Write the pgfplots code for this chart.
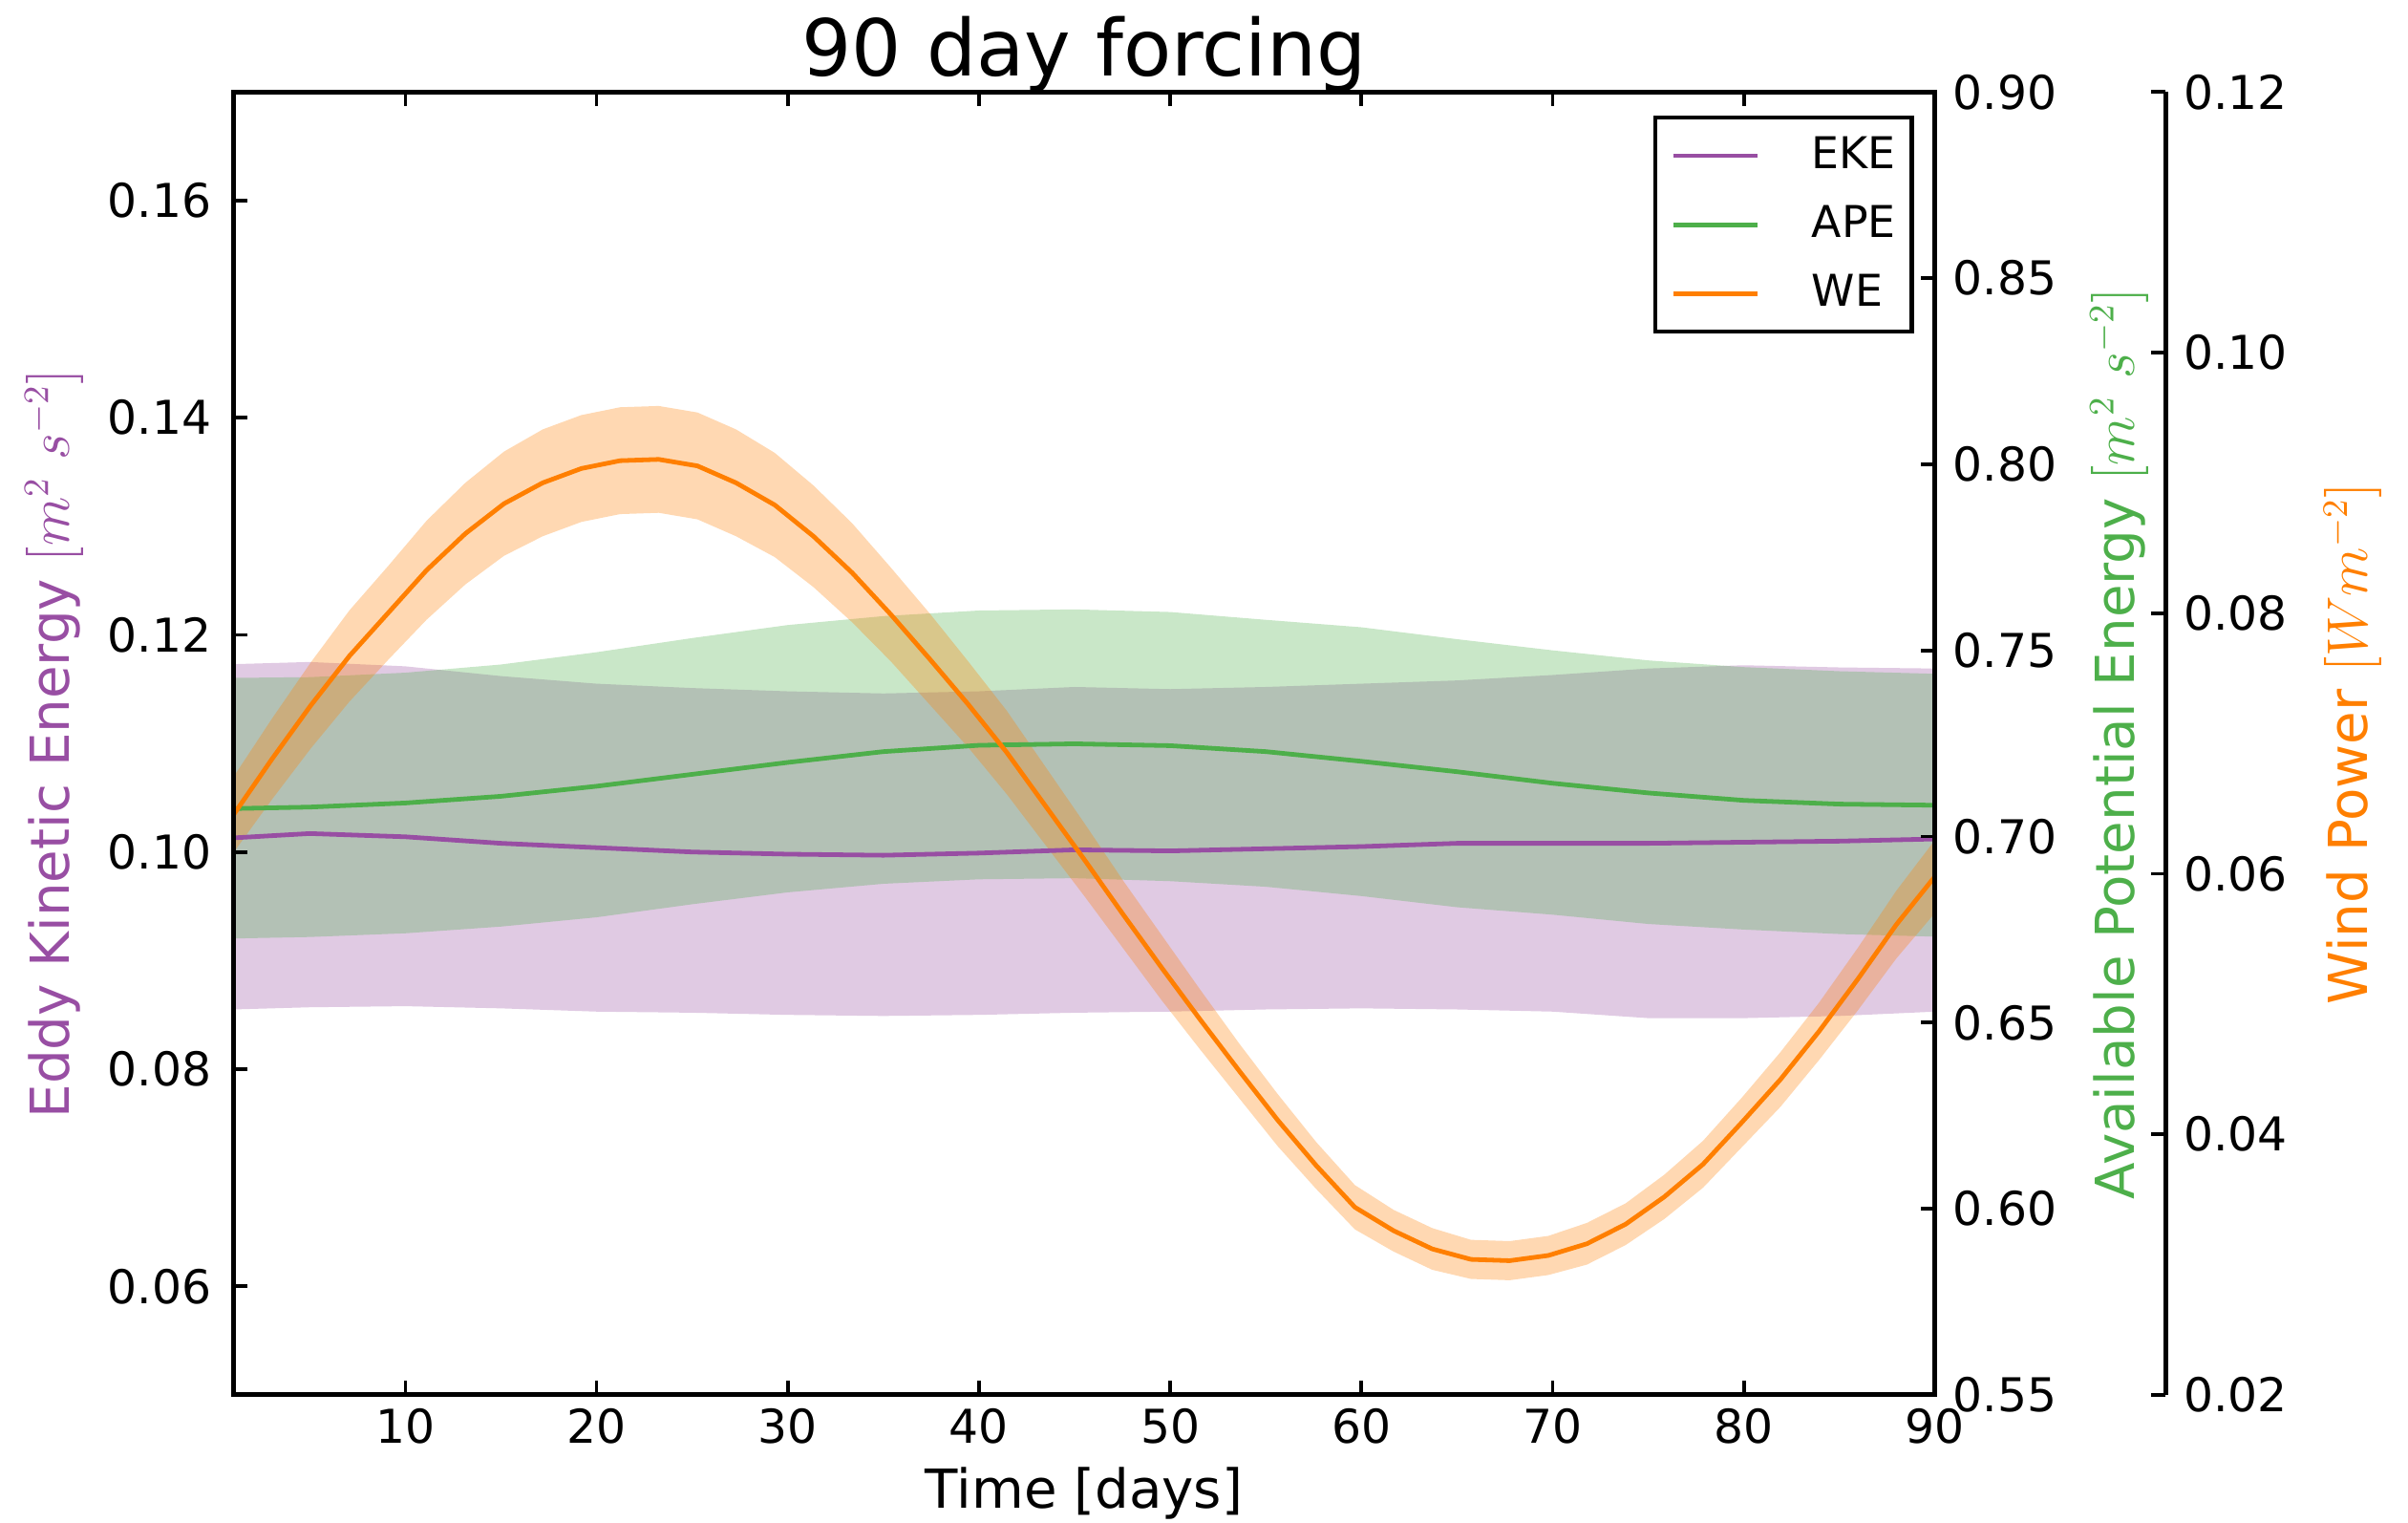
\documentclass[border=0pt]{standalone}
\usepackage{fontspec}
\setmainfont{DejaVu Sans}
\usepackage{pgfplots}
\pgfplotsset{compat=1.18}
\usepackage{pgfplotstable}
\usepgfplotslibrary{fillbetween}
\definecolor{ekec}{HTML}{984EA3}
\definecolor{apec}{HTML}{4DAF4A}
\definecolor{wec}{HTML}{FF7F00}

\pgfplotstableread{
x m lo hi
1 0.1013 0.0855 0.1173
5 0.1017 0.0857 0.1175
10 0.1014 0.0858 0.1171
15 0.1008 0.0856 0.1162
20 0.1004 0.0853 0.1155
25 0.1000 0.0852 0.1151
30 0.0998 0.0850 0.1148
35 0.0997 0.0849 0.1146
40 0.0999 0.0850 0.1148
45 0.1002 0.0852 0.1152
50 0.1001 0.0853 0.1150
55 0.1003 0.0855 0.1152
60 0.1005 0.0856 0.1155
65 0.1008 0.0855 0.1158
70 0.1008 0.0853 0.1163
75 0.1008 0.0847 0.1169
80 0.1009 0.0847 0.1172
85 0.1010 0.0849 0.1170
90 0.1012 0.0853 0.1169
}\ekedata

\pgfplotstableread{
x m lo hi
1 0.7075 0.6726 0.7426
5 0.7079 0.6730 0.7428
10 0.7090 0.6740 0.7440
15 0.7108 0.6758 0.7462
20 0.7135 0.6783 0.7495
25 0.7167 0.6818 0.7533
30 0.7199 0.6850 0.7568
35 0.7228 0.6873 0.7592
40 0.7245 0.6885 0.7607
45 0.7249 0.6888 0.7610
50 0.7244 0.6880 0.7603
55 0.7228 0.6865 0.7582
60 0.7202 0.6840 0.7562
65 0.7174 0.6810 0.7530
70 0.7143 0.6790 0.7500
75 0.7117 0.6765 0.7473
80 0.7097 0.6750 0.7455
85 0.7087 0.6738 0.7444
90 0.7084 0.6731 0.7437
}\apedata

\pgfplotstableread{
x m s
1.000 0.0645 0.0029
3.023 0.0688 0.0031
5.045 0.0729 0.0033
7.068 0.0767 0.0035
9.091 0.0800 0.0036
11.114 0.0833 0.0038
13.136 0.0861 0.0039
15.159 0.0884 0.0040
17.182 0.0900 0.0041
19.205 0.0911 0.0041
21.227 0.0917 0.0041
23.250 0.0918 0.0041
25.273 0.0913 0.0041
27.295 0.0900 0.0041
29.318 0.0883 0.0040
31.341 0.0859 0.0039
33.364 0.0831 0.0038
35.386 0.0799 0.0036
37.409 0.0765 0.0035
39.432 0.0730 0.0033
41.455 0.0693 0.0032
43.477 0.0652 0.0030
45.500 0.0611 0.0028
47.523 0.0569 0.0026
49.545 0.0528 0.0025
51.568 0.0488 0.0023
53.591 0.0449 0.0021
55.614 0.0411 0.0020
57.636 0.0376 0.0018
59.659 0.0344 0.0017
61.682 0.0326 0.0016
63.705 0.0312 0.0016
65.727 0.0304 0.0015
67.750 0.0303 0.0015
69.773 0.0307 0.0015
71.795 0.0316 0.0016
73.818 0.0331 0.0016
75.841 0.0352 0.0017
77.864 0.0377 0.0018
79.886 0.0409 0.0019
81.909 0.0442 0.0021
83.932 0.0479 0.0022
85.955 0.0519 0.0024
87.977 0.0561 0.0026
90.000 0.0598 0.0028
}\wedata

\pgfplotsset{
  base/.style={width=427.5pt, height=327.2pt, scale only axis,
    xmin=1, xmax=90, at={(0,0)}, anchor=south west},
  hidden/.style={base, hide axis},
  ekeax/.style={ymin=0.05, ymax=0.17},
  apeax/.style={ymin=0.55, ymax=0.90},
  weax/.style={ymin=0.02, ymax=0.12},
  vis/.style={
    axis line style={line width=1.2pt, black},
    tick style={line width=0.9pt, black},
    major tick length=3.6pt,
    tick align=inside,
    scaled y ticks=false,
    /pgf/number format/assume math mode=true,
    tick label style={font=\fontsize{11.7}{14}\selectfont},
    yticklabel style={/pgf/number format/fixed, /pgf/number format/fixed zerofill, /pgf/number format/precision=2},
  },
  rightax/.style={vis, axis x line=none, axis y line*=right,
    y axis line style={-}, yticklabel style={xshift=1pt}},
}

\begin{document}
\begin{tikzpicture}
% fills
\begin{axis}[hidden, ekeax]
  \addplot[draw=none, name path=ekehi, forget plot] table[x=x, y=hi] {\ekedata};
  \addplot[draw=none, name path=ekelo, forget plot] table[x=x, y=lo] {\ekedata};
  \addplot[fill=ekec, fill opacity=0.3, draw=none, forget plot] fill between[of=ekehi and ekelo];
\end{axis}
\begin{axis}[hidden, apeax]
  \addplot[draw=none, name path=apehi, forget plot] table[x=x, y=hi] {\apedata};
  \addplot[draw=none, name path=apelo, forget plot] table[x=x, y=lo] {\apedata};
  \addplot[fill=apec, fill opacity=0.3, draw=none, forget plot] fill between[of=apehi and apelo];
\end{axis}
\begin{axis}[hidden, weax]
  \addplot[draw=none, name path=wehi, forget plot] table[x=x, y expr=\thisrow{m}+\thisrow{s}] {\wedata};
  \addplot[draw=none, name path=welo, forget plot] table[x=x, y expr=\thisrow{m}-\thisrow{s}] {\wedata};
  \addplot[fill=wec, fill opacity=0.3, draw=none, forget plot] fill between[of=wehi and welo];
\end{axis}
% lines
\begin{axis}[hidden, ekeax]
  \addplot[ekec, line width=1.15pt] table[x=x, y=m] {\ekedata};
\end{axis}
\begin{axis}[base, apeax, rightax,
  ytick={0.55,0.60,0.65,0.70,0.75,0.80,0.85,0.90},
  ylabel={Available Potential Energy $[m^2\ s^{-2}]$},
  every axis y label/.style={at={(axis description cs:1,0.5)}, xshift=46.3pt, rotate=90, anchor=center, font=\fontsize{13.5}{16}\selectfont, text=apec}]
  \addplot[apec, line width=1.15pt] table[x=x, y=m] {\apedata};
\end{axis}
\begin{axis}[hidden, weax]
  \addplot[wec, line width=1.15pt] table[x=x, y=m] {\wedata};
\end{axis}
% wind power spine
\begin{axis}[base, weax, rightax, xshift=57.9pt,
  ytick={0.02,0.04,0.06,0.08,0.10,0.12},
  ylabel={Wind Power $[Wm^{-2}]$},
  every axis y label/.style={at={(axis description cs:1,0.5)}, xshift=47.1pt, rotate=90, anchor=center, font=\fontsize{13.5}{16}\selectfont, text=wec}]
\end{axis}
% main box
\begin{axis}[base, ekeax, vis,
  xtick pos=both, ytick pos=left,
  xtick={10,20,30,40,50,60,70,80,90},
  ytick={0.06,0.08,0.10,0.12,0.14,0.16},
  yticklabel style={xshift=-2pt},
  title={90 day forcing},
  title style={at={(axis description cs:0.5,1)}, anchor=base, yshift=-2pt, font=\fontsize{19.7}{23}\selectfont},
  xlabel={Time [days]},
  xlabel style={at={(axis description cs:0.5,0)}, anchor=base, yshift=-28.5pt, font=\fontsize{13.5}{16}\selectfont},
  ylabel={Eddy Kinetic Energy $[m^2\ s^{-2}]$},
  every axis y label/.style={at={(axis description cs:0,0.5)}, xshift=-45pt, rotate=90, anchor=center, font=\fontsize{13.5}{16}\selectfont, text=ekec},
  legend style={at={(1,1)}, anchor=north east, xshift=-5.3pt, yshift=-5.9pt, draw=black, line width=1.1pt, fill=white,
    font=\fontsize{11}{13}\selectfont, inner xsep=4pt, inner ysep=4.8pt, row sep=7.8pt,
    nodes={inner sep=0pt},
    /tikz/every odd column/.append style={column sep=13.1pt}},
  legend cell align=left,
  legend image code/.code={\path (0pt,0pt) -- (6pt,0pt); \draw[#1] (6pt,0pt) -- (21.1pt,0pt);},
]
  \addlegendimage{ekec, line width=1.15pt}
  \addlegendentry{EKE}
  \addlegendimage{apec, line width=1.15pt}
  \addlegendentry{APE}
  \addlegendimage{wec, line width=1.15pt}
  \addlegendentry{WE}
\end{axis}
\pgfresetboundingbox
\path[use as bounding box] (-58.6pt,-32.0pt) rectangle (546.3pt,350.3pt);
\end{tikzpicture}
\end{document}
